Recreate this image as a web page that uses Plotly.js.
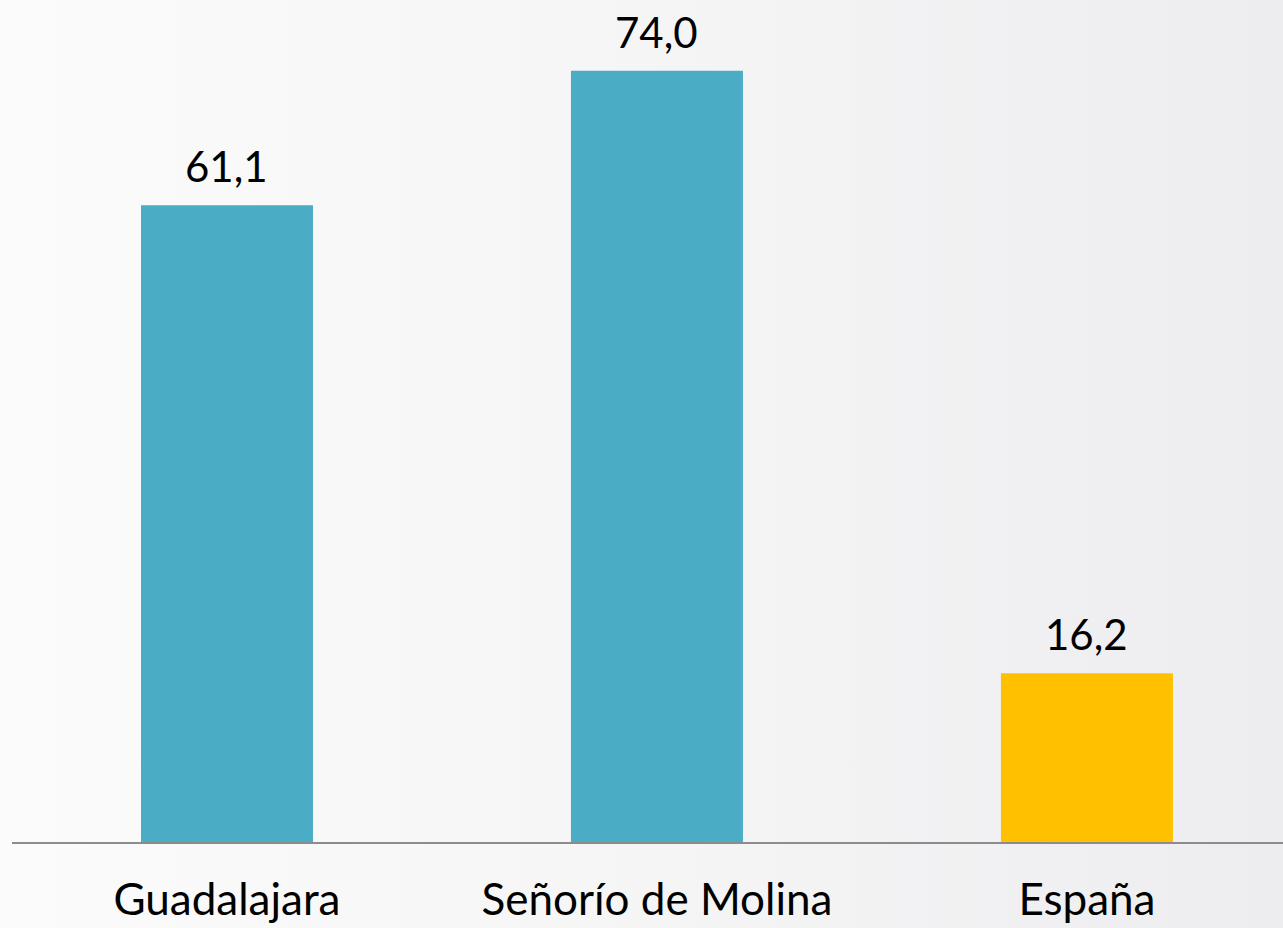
<!DOCTYPE html>
<html>
<head>
<meta charset="utf-8">
<script src="https://cdn.plot.ly/plotly-3.0.1.min.js"></script>
<style>
html,body{margin:0;padding:0;}
body{width:1283px;height:928px;background:linear-gradient(90deg,#fbfbfb 0%,#f6f6f6 45%,#ededf0 100%);overflow:hidden;}
#chart{width:1283px;height:928px;}
</style>
</head>
<body>
<div id="chart"></div>
<script>
const categories = ["Guadalajara", "Señorío de Molina", "España"];
const values = [61.1, 74.0, 16.2];
const barColors = ["#4BACC6", "#4BACC6", "#FFC000"];

function fmt(v){ return v.toFixed(1).replace('.', ','); }

const FONT = 'Lato, Open Sans, Noto Sans, sans-serif';

const trace = {
  type: 'bar',
  x: categories,
  y: values,
  marker: {color: barColors},
  hoverinfo: 'skip'
};

const annotations = categories.map((c, i) => ({
  x: c, y: values[i], xref: 'x', yref: 'y',
  text: fmt(values[i]), showarrow: false,
  yanchor: 'bottom', yshift: 12,
  font: {family: FONT, size: 42, color: '#000'}
}));

const layout = {
  width: 1283, height: 928,
  margin: {l: 12, r: 0, t: 0, b: 86},
  paper_bgcolor: 'rgba(0,0,0,0)',
  plot_bgcolor: 'rgba(0,0,0,0)',
  bargap: 0.6,
  showlegend: false,
  xaxis: {
    type: 'category',
    range: [-0.5, 2.456],
    showline: true, linecolor: '#8c8c8c', linewidth: 2,
    ticks: '', showgrid: false, zeroline: false,
    tickfont: {family: FONT, size: 44, color: '#000'},
    ticklabelstandoff: 18
  },
  yaxis: {
    range: [0, 80.8], visible: false, showgrid: false, zeroline: false
  },
  annotations: annotations
};

Plotly.newPlot('chart', [trace], layout, {displayModeBar: false, staticPlot: true});
</script>
</body>
</html>
